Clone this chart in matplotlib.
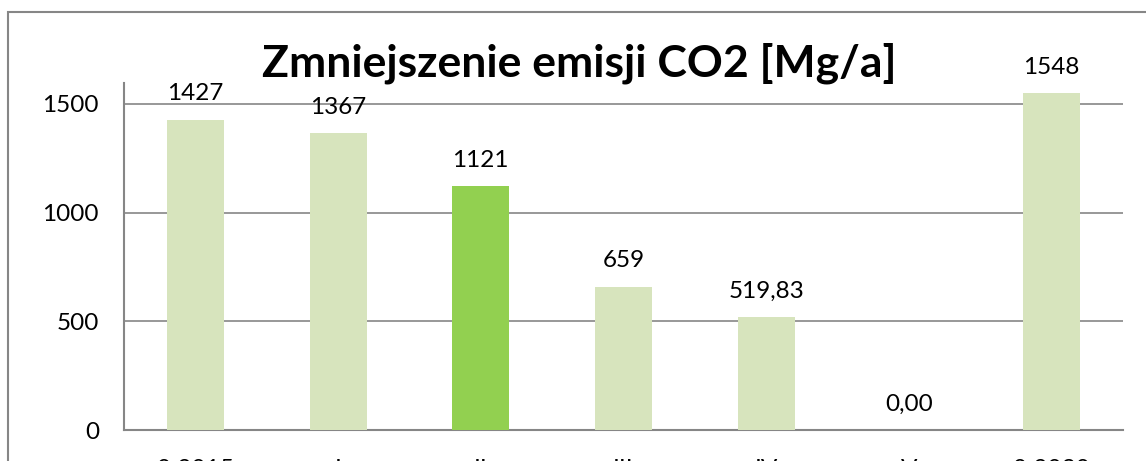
import matplotlib
matplotlib.use("Agg")
import matplotlib.pyplot as plt
from matplotlib.patches import Rectangle

categories = ["0 2015", "I", "II", "III", "IV", "V", "0 2030"]
values = [1427, 1367, 1121, 659, 519.83, 0.0, 1548]
value_labels = ["1427", "1367", "1121", "659", "519,83", "0,00", "1548"]
highlight_index = 2
title = "Zmniejszenie emisji CO2 [Mg/a]"
yticks = [0, 500, 1000, 1500]

plt.rcParams['font.family'] = ['Lato', 'DejaVu Sans']

W, H = 1146, 461
fig = plt.figure(figsize=(W / 100, H / 100), dpi=100)
ax = fig.add_axes([124 / W, 1 - 430 / H, (1123 - 124) / W, (430 - 83) / H])

light = "#D7E4BD"
bright = "#92D050"
colors = [bright if i == highlight_index else light for i in range(len(values))]
x = list(range(len(values)))
ax.bar(x, values, width=0.4, color=colors, zorder=3)

ax.set_xlim(-0.5, len(values) - 0.5)
ax.set_ylim(0, 1596)
ax.set_yticks(yticks)
ax.set_yticklabels([str(t) for t in yticks], fontsize=17.5)
ax.set_xticks(x)
ax.set_xticklabels(categories, fontsize=17.5)
ax.tick_params(axis='y', length=0, pad=18)
ax.tick_params(axis='x', length=0, pad=21)
ax.yaxis.grid(True, color="#868686", linewidth=1.2, zorder=0)
for s in ["top", "right"]:
    ax.spines[s].set_visible(False)
for s in ["left", "bottom"]:
    ax.spines[s].set_color("#868686")
    ax.spines[s].set_linewidth(1.5)

for xi, v, lab in zip(x, values, value_labels):
    ax.annotate(lab, (xi, v), xytext=(0, 11), textcoords="offset points",
                ha="center", va="bottom", fontsize=17.5)

fig.text(579 / W, 1 - 77 / H, title, ha="center", va="baseline",
         fontsize=32, fontweight="bold")

fig.add_artist(Rectangle((8 / W, -0.2), 2.0, 1.2 - 12 / H, transform=fig.transFigure,
                         fill=False, edgecolor="#868686", linewidth=1.5))

fig.savefig("out.png", dpi=100)
